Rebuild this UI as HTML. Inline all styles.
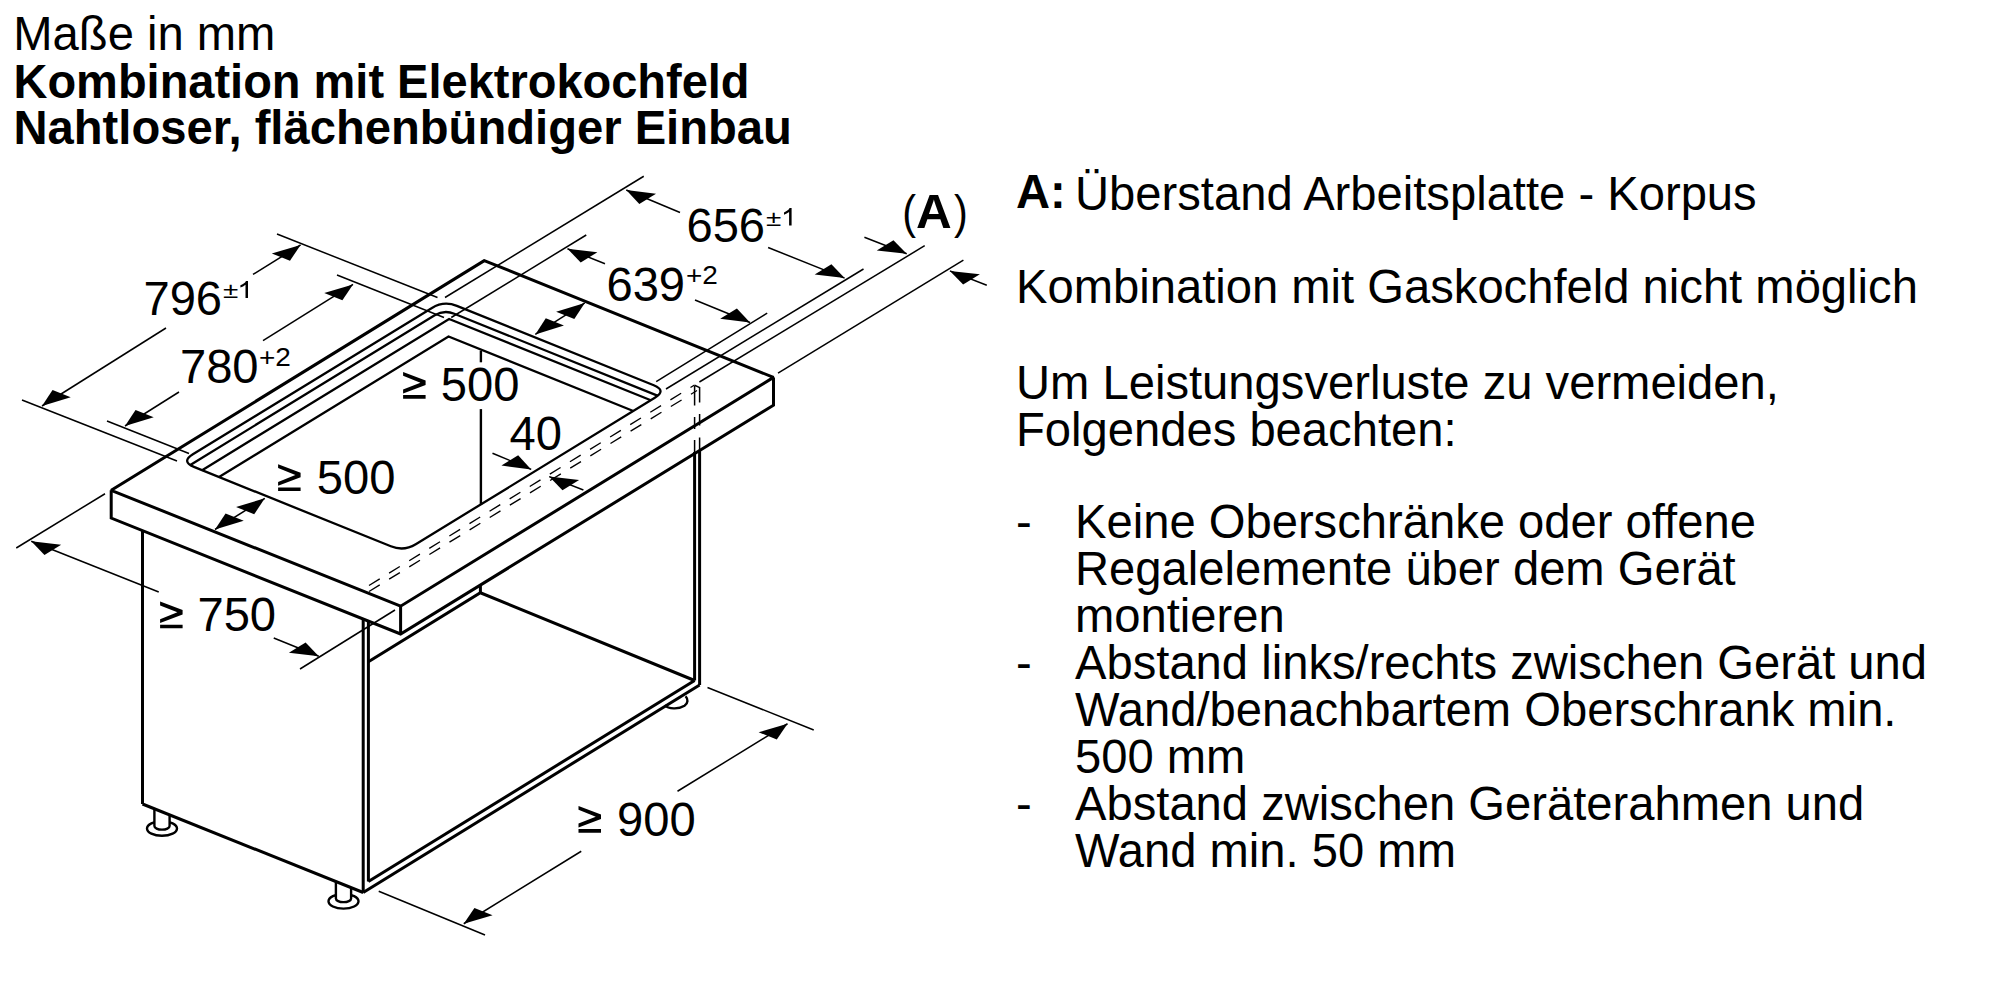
<!DOCTYPE html>
<html><head><meta charset="utf-8"><style>
html,body{margin:0;padding:0;background:#fff;width:2000px;height:1000px;overflow:hidden}
svg{position:absolute;left:0;top:0}
text{font-family:"Liberation Sans",sans-serif;fill:#000}
</style></head><body>
<svg width="2000" height="1000" viewBox="0 0 2000 1000" stroke="#000" stroke-linecap="butt" stroke-linejoin="miter" stroke-miterlimit="2">
<g>
<path d="M664.5 705.4 C668.5 708.9 678.5 709.6 684.5 705.8 C688.2 703.2 688.3 699.2 685.6 696.2" fill="none" stroke-width="2.4"/>
<ellipse cx="343.5" cy="901.3" rx="15" ry="7.3" fill="#fff" stroke-width="2.4"/>
<path d="M335.9 881.55 L335.9 898.5 A7.6 3.6 0 0 0 351.1 898.5 L351.1 887.65 Z" fill="#fff" stroke="none"/>
<path d="M335.9 881.55 L335.9 898.5 A7.6 3.6 0 0 0 351.1 898.5 L351.1 887.65" fill="none" stroke-width="2.4"/>
<ellipse cx="162" cy="828.5" rx="15" ry="7.3" fill="#fff" stroke-width="2.4"/>
<path d="M154.4 808.77 L154.4 826 A7.6 3.6 0 0 0 169.6 826 L169.6 814.87 Z" fill="#fff" stroke="none"/>
<path d="M154.4 808.77 L154.4 826 A7.6 3.6 0 0 0 169.6 826 L169.6 814.87" fill="none" stroke-width="2.4"/>
<path d="M484.3 260.6 L111.2 490.3 L400.6 606.2 L773.5 377.4 Z" stroke-width="3.0" fill="none"/>
<path d="M111.2 490.3 L111.2 518.1 L400.6 634 L773.5 405.2 L773.5 377.4" stroke-width="3.0" fill="none"/>
<line x1="400.6" y1="606.2" x2="400.6" y2="634" stroke-width="3.0"/>
<path d="M192.88 454.3 L431.95 307.92 Q443.89 300.61 456.87 305.85 L653.78 385.3 Q666.77 390.54 654.83 397.85 L415.76 544.23 Q403.82 551.54 390.84 546.3 L193.92 466.85 Q180.94 461.61 192.88 454.3 Z" stroke-width="2.3" fill="none"/>
<path d="M189.9 465.22 L434.7 315.33 Q444.08 309.59 454.28 313.7 L658 395.9" stroke-width="2.3" fill="none"/>
<path d="M202.11 470.15 L449.1 318.91 L650.82 400.3" stroke-width="2.3" fill="none"/>
<path d="M219.04 476.98 L448.51 336.48 L633.29 411.03" stroke-width="2.3" fill="none"/>
<line x1="142.5" y1="530.5" x2="142.5" y2="804" stroke-width="3.0"/>
<line x1="142.5" y1="804" x2="363.2" y2="892.5" stroke-width="3.0"/>
<line x1="363.2" y1="619.5" x2="363.2" y2="892.5" stroke-width="3.0"/>
<line x1="368.4" y1="622" x2="368.4" y2="881.5" stroke-width="3.0"/>
<line x1="363.2" y1="892.5" x2="699.6" y2="685" stroke-width="3.0"/>
<line x1="368.4" y1="881.5" x2="694.6" y2="680.5" stroke-width="3.0"/>
<line x1="699.6" y1="450" x2="699.6" y2="685" stroke-width="3.0"/>
<line x1="694.6" y1="452" x2="694.6" y2="680.5" stroke-width="3.0"/>
<path d="M368.4 661.8 L480.4 592.8 L694.6 680.5" stroke-width="3.0" fill="none"/>
<line x1="480.4" y1="585" x2="480.4" y2="593" stroke-width="3.0"/>
<line x1="480.9" y1="350.6" x2="480.9" y2="362.3" stroke-width="2.4"/>
<line x1="480.9" y1="409.1" x2="480.9" y2="505" stroke-width="2.4"/>
<line x1="369" y1="585.5" x2="694.5" y2="385" stroke-width="1.35" stroke-dasharray="12.6 11"/>
<line x1="369" y1="591.5" x2="697" y2="390.5" stroke-width="1.35" stroke-dasharray="12.6 11"/>
<line x1="694.6" y1="386" x2="694.6" y2="405.5" stroke-width="1.5"/>
<line x1="694.6" y1="417" x2="694.6" y2="429" stroke-width="1.5"/>
<line x1="694.6" y1="440" x2="694.6" y2="452" stroke-width="1.5"/>
<line x1="699.6" y1="387" x2="699.6" y2="402.5" stroke-width="1.5"/>
<line x1="699.6" y1="414" x2="699.6" y2="425.5" stroke-width="1.5"/>
<line x1="699.6" y1="437.5" x2="699.6" y2="452" stroke-width="1.5"/>
<line x1="694.6" y1="385.2" x2="699.8" y2="387.6" stroke-width="1.5"/>
<line x1="277" y1="234" x2="437.5" y2="297.5" stroke-width="1.5"/>
<line x1="22" y1="400" x2="177" y2="461" stroke-width="1.5"/>
<line x1="300.6" y1="244.9" x2="253" y2="274.4" stroke-width="1.5"/>
<path d="M300.6 244.9 L289.97 260.79 L271.79 253.45 Z" fill="#000" stroke="none"/>
<line x1="42" y1="406" x2="166" y2="328" stroke-width="1.5"/>
<path d="M42 406 L70.73 397.31 L52.55 389.98 Z" fill="#000" stroke="none"/>
<text stroke="none" transform="translate(143.4 315) scale(0.983 1)" font-size="48" font-weight="normal" text-anchor="start">796</text>
<text stroke="none" transform="translate(223.1 298.1) scale(1.24 1)" font-size="22.5" font-weight="normal" text-anchor="start">±</text>
<path d="M248 298.1 L248 281 L246 281 C245 283 242.8 284.4 240.4 285.3 L240.4 287.6 C242.2 287 244 286 245.5 284.8 L245.5 298.1 Z" fill="#000" stroke="none"/>
<line x1="337" y1="275" x2="444" y2="317.5" stroke-width="1.5"/>
<line x1="107" y1="421" x2="189" y2="453.5" stroke-width="1.5"/>
<line x1="353" y1="284.4" x2="263" y2="340.6" stroke-width="1.5"/>
<path d="M353 284.4 L342.41 300.36 L324.23 293.02 Z" fill="#000" stroke="none"/>
<line x1="125" y1="426" x2="179" y2="392" stroke-width="1.5"/>
<path d="M125 426 L153.72 417.31 L135.54 409.97 Z" fill="#000" stroke="none"/>
<text stroke="none" transform="translate(179.9 383.2) scale(0.983 1)" font-size="48" font-weight="normal" text-anchor="start">780</text>
<text stroke="none" transform="translate(258.9 366.4) scale(1.12 1)" font-size="25" font-weight="normal" text-anchor="start">+2</text>
<line x1="16.25" y1="548" x2="105" y2="493.75" stroke-width="1.5"/>
<line x1="300" y1="669" x2="395" y2="610" stroke-width="1.5"/>
<line x1="31.25" y1="541.25" x2="158.75" y2="592" stroke-width="1.5"/>
<path d="M31.25 541.25 L44.45 554.95 L61.16 544.71 Z" fill="#000" stroke="none"/>
<line x1="318.75" y1="656.25" x2="273.75" y2="638" stroke-width="1.5"/>
<path d="M318.75 656.25 L288.89 652.65 L305.61 642.41 Z" fill="#000" stroke="none"/>
<path d="M160.1 601.5 L182.6 610.1 L182.6 614.5 L160.1 623.1 L160.1 619.2 L177.4 612.3 L160.1 605.4 Z M160.1 624.7 L182.6 624.7 L182.6 628.3 L160.1 628.3 Z" fill="#000" stroke="none"/>
<text stroke="none" transform="translate(197.4 630.9) scale(0.983 1)" font-size="48" font-weight="normal" text-anchor="start">750</text>
<line x1="264.8" y1="498.3" x2="215" y2="529.5" stroke-width="1.5"/>
<path d="M264.8 498.3 L254.23 514.28 L236.05 506.95 Z" fill="#000" stroke="none"/>
<path d="M215 529.5 L243.75 520.85 L225.57 513.52 Z" fill="#000" stroke="none"/>
<path d="M278.1 464.2 L300.6 472.8 L300.6 477.2 L278.1 485.8 L278.1 481.9 L295.4 475 L278.1 468.1 Z M278.1 487.4 L300.6 487.4 L300.6 491 L278.1 491 Z" fill="#000" stroke="none"/>
<text stroke="none" transform="translate(316.8 493.9) scale(0.983 1)" font-size="48" font-weight="normal" text-anchor="start">500</text>
<line x1="584.8" y1="302.9" x2="535.3" y2="334.4" stroke-width="1.5"/>
<path d="M584.8 302.9 L574.32 319.02 L556.14 311.69 Z" fill="#000" stroke="none"/>
<path d="M535.3 334.4 L563.96 325.61 L545.78 318.28 Z" fill="#000" stroke="none"/>
<path d="M403.1 371.9 L425.6 380.5 L425.6 384.9 L403.1 393.5 L403.1 389.6 L420.4 382.7 L403.1 375.8 Z M403.1 395.1 L425.6 395.1 L425.6 398.7 L403.1 398.7 Z" fill="#000" stroke="none"/>
<text stroke="none" transform="translate(440.8 401.2) scale(0.983 1)" font-size="48" font-weight="normal" text-anchor="start">500</text>
<line x1="531.2" y1="469.4" x2="492.5" y2="453.2" stroke-width="1.5"/>
<path d="M531.2 469.4 L501.44 465.56 L518.16 455.32 Z" fill="#000" stroke="none"/>
<line x1="549.2" y1="476.6" x2="583.4" y2="490" stroke-width="1.5"/>
<path d="M549.2 476.6 L562.44 490.18 L579.16 479.95 Z" fill="#000" stroke="none"/>
<text stroke="none" transform="translate(509.5 450.1) scale(0.983 1)" font-size="48" font-weight="normal" text-anchor="start">40</text>
<line x1="445" y1="297.5" x2="643.75" y2="176.25" stroke-width="1.5"/>
<line x1="666" y1="389" x2="863.5" y2="269" stroke-width="1.5"/>
<line x1="626.25" y1="190" x2="680" y2="212.5" stroke-width="1.5"/>
<path d="M626.25 190 L639.29 204.08 L656.01 193.84 Z" fill="#000" stroke="none"/>
<line x1="844.6" y1="278.1" x2="768.1" y2="247.5" stroke-width="1.5"/>
<path d="M844.6 278.1 L814.7 274.6 L831.42 264.37 Z" fill="#000" stroke="none"/>
<text stroke="none" transform="translate(686.4 242.3) scale(0.983 1)" font-size="48" font-weight="normal" text-anchor="start">656</text>
<text stroke="none" transform="translate(766.1 225.5) scale(1.24 1)" font-size="22.5" font-weight="normal" text-anchor="start">±</text>
<path d="M791.6 225.5 L791.6 208.1 L789.6 208.1 C788.6 210.1 786.4 211.5 784 212.4 L784 214.7 C785.8 214.1 787.6 213.1 789.1 211.9 L789.1 225.5 Z" fill="#000" stroke="none"/>
<line x1="451.25" y1="317.5" x2="586.25" y2="235" stroke-width="1.5"/>
<line x1="656.2" y1="381.6" x2="767.2" y2="313.2" stroke-width="1.5"/>
<line x1="567.5" y1="248.75" x2="605" y2="263.75" stroke-width="1.5"/>
<path d="M567.5 248.75 L580.68 262.48 L597.4 252.25 Z" fill="#000" stroke="none"/>
<line x1="750" y1="322.5" x2="695" y2="300" stroke-width="1.5"/>
<path d="M750 322.5 L720.17 318.83 L736.89 308.6 Z" fill="#000" stroke="none"/>
<text stroke="none" transform="translate(606.4 300.8) scale(0.983 1)" font-size="48" font-weight="normal" text-anchor="start">639</text>
<text stroke="none" transform="translate(686 284) scale(1.12 1)" font-size="25" font-weight="normal" text-anchor="start">+2</text>
<line x1="699.4" y1="382" x2="924.7" y2="245.7" stroke-width="1.5"/>
<line x1="778" y1="373.2" x2="963.4" y2="260.1" stroke-width="1.5"/>
<line x1="906.7" y1="253.8" x2="864.4" y2="237.2" stroke-width="1.5"/>
<path d="M906.7 253.8 L876.75 250.44 L893.46 240.21 Z" fill="#000" stroke="none"/>
<line x1="949.9" y1="270.9" x2="986.8" y2="285.3" stroke-width="1.5"/>
<path d="M949.9 270.9 L963.15 284.45 L979.87 274.22 Z" fill="#000" stroke="none"/>
<text stroke="none" transform="translate(902.2 228) scale(0.9 1)" font-size="46" font-weight="normal" text-anchor="start">(</text>
<text stroke="none" transform="translate(915.9 227.9) scale(1.03 1)" font-size="48" font-weight="bold" text-anchor="start">A</text>
<text stroke="none" transform="translate(954.1 228) scale(0.9 1)" font-size="46" font-weight="normal" text-anchor="start">)</text>
<line x1="378.75" y1="891.25" x2="485" y2="935" stroke-width="1.5"/>
<line x1="707.5" y1="687.5" x2="813.75" y2="730" stroke-width="1.5"/>
<line x1="463.75" y1="923.75" x2="581.25" y2="851.25" stroke-width="1.5"/>
<path d="M463.75 923.75 L492.58 915.23 L474.41 907.9 Z" fill="#000" stroke="none"/>
<line x1="787.5" y1="723.75" x2="677.5" y2="791.25" stroke-width="1.5"/>
<path d="M787.5 723.75 L776.81 739.55 L758.64 732.22 Z" fill="#000" stroke="none"/>
<path d="M578.5 805.9 L601 814.5 L601 818.9 L578.5 827.5 L578.5 823.6 L595.8 816.7 L578.5 809.8 Z M578.5 829.1 L601 829.1 L601 832.7 L578.5 832.7 Z" fill="#000" stroke="none"/>
<text stroke="none" transform="translate(617.1 835.6) scale(0.983 1)" font-size="48" font-weight="normal" text-anchor="start">900</text>
<text stroke="none" transform="translate(13.3 50.4) scale(0.983 1)" font-size="48" font-weight="normal" text-anchor="start">Maße in mm</text>
<text stroke="none" transform="translate(13.5 98.25) scale(0.979 1)" font-size="48" font-weight="bold" text-anchor="start">Kombination mit Elektrokochfeld</text>
<text stroke="none" transform="translate(13.5 144) scale(0.983 1)" font-size="48" font-weight="bold" text-anchor="start">Nahtloser, flächenbündiger Einbau</text>
<text stroke="none" transform="translate(1016 208) scale(0.983 1)" font-size="48" font-weight="bold" text-anchor="start">A:</text>
<text stroke="none" transform="translate(1075 210) scale(0.983 1)" font-size="48" font-weight="normal" text-anchor="start">Überstand Arbeitsplatte - Korpus</text>
<text stroke="none" transform="translate(1016 302.5) scale(0.983 1)" font-size="48" font-weight="normal" text-anchor="start">Kombination mit Gaskochfeld nicht möglich</text>
<text stroke="none" transform="translate(1016 398.5) scale(0.983 1)" font-size="48" font-weight="normal" text-anchor="start">Um Leistungsverluste zu vermeiden,</text>
<text stroke="none" transform="translate(1016 445.5) scale(0.983 1)" font-size="48" font-weight="normal" text-anchor="start">Folgendes beachten:</text>
<text stroke="none" transform="translate(1016 538.2) scale(0.983 1)" font-size="48" font-weight="normal" text-anchor="start">-</text>
<text stroke="none" transform="translate(1075 538.2) scale(0.983 1)" font-size="48" font-weight="normal" text-anchor="start">Keine Oberschränke oder offene</text>
<text stroke="none" transform="translate(1075 585.17) scale(0.983 1)" font-size="48" font-weight="normal" text-anchor="start">Regalelemente über dem Gerät</text>
<text stroke="none" transform="translate(1075 632.14) scale(0.983 1)" font-size="48" font-weight="normal" text-anchor="start">montieren</text>
<text stroke="none" transform="translate(1016 679.11) scale(0.983 1)" font-size="48" font-weight="normal" text-anchor="start">-</text>
<text stroke="none" transform="translate(1075 679.11) scale(0.983 1)" font-size="48" font-weight="normal" text-anchor="start">Abstand links/rechts zwischen Gerät und</text>
<text stroke="none" transform="translate(1075 726.08) scale(0.983 1)" font-size="48" font-weight="normal" text-anchor="start">Wand/benachbartem Oberschrank min.</text>
<text stroke="none" transform="translate(1075 773.05) scale(0.983 1)" font-size="48" font-weight="normal" text-anchor="start">500 mm</text>
<text stroke="none" transform="translate(1016 820.02) scale(0.983 1)" font-size="48" font-weight="normal" text-anchor="start">-</text>
<text stroke="none" transform="translate(1075 820.02) scale(0.983 1)" font-size="48" font-weight="normal" text-anchor="start">Abstand zwischen Geräterahmen und</text>
<text stroke="none" transform="translate(1075 866.99) scale(0.983 1)" font-size="48" font-weight="normal" text-anchor="start">Wand min. 50 mm</text>
</g>
</svg>
</body></html>
